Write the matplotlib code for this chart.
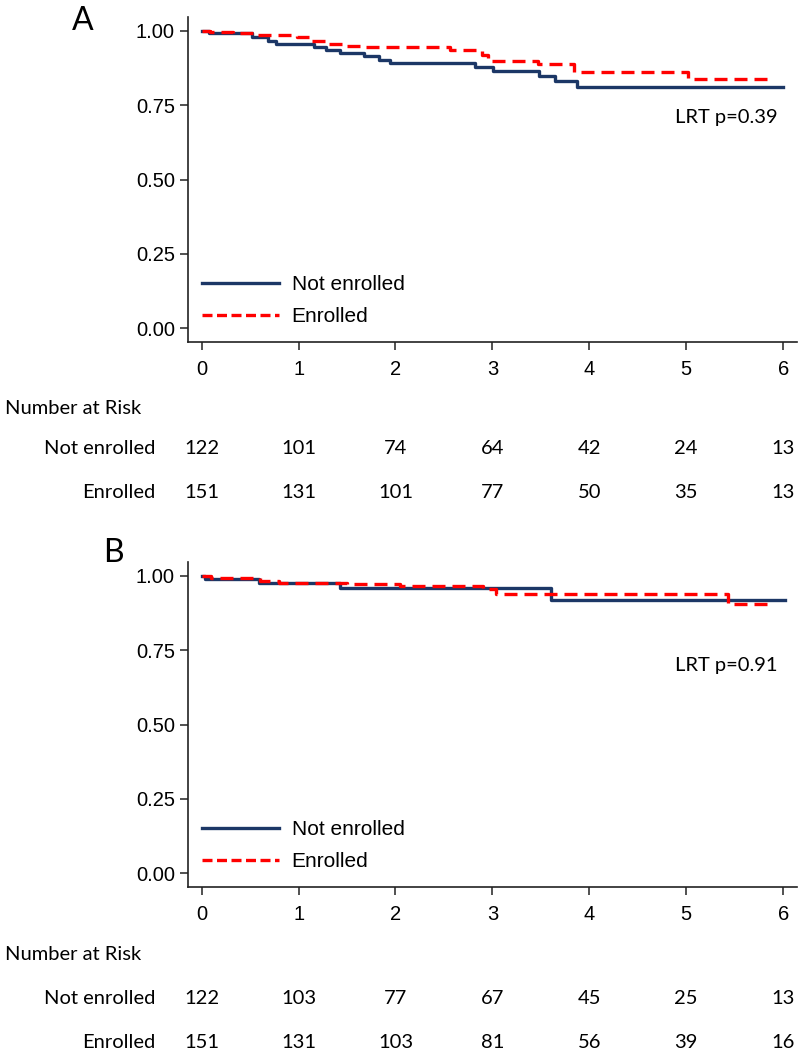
import numpy as np
import matplotlib.pyplot as plt
from matplotlib.lines import Line2D
from matplotlib.transforms import blended_transform_factory

# Kaplan-Meier step data (time in years, survival)
a_not_t = [0, 0.08, 0.52, 0.68, 0.77, 1.16, 1.28, 1.43, 1.68, 1.83, 1.94, 2.82, 3.01, 3.48, 3.65, 3.87, 6.0]
a_not_s = [1.0, 0.992, 0.981, 0.967, 0.956, 0.947, 0.936, 0.925, 0.916, 0.903, 0.892, 0.879, 0.867, 0.849, 0.833, 0.813, 0.813]
a_enr_t = [0, 0.09, 0.32, 0.53, 0.98, 1.13, 1.29, 1.50, 1.63, 2.56, 2.89, 2.95, 3.47, 3.84, 5.02, 5.86]
a_enr_s = [1.0, 0.998, 0.992, 0.987, 0.981, 0.967, 0.956, 0.951, 0.945, 0.936, 0.919, 0.900, 0.889, 0.862, 0.837, 0.837]

b_not_t = [0, 0.03, 0.59, 1.43, 3.60, 6.02]
b_not_s = [1.0, 0.989, 0.978, 0.959, 0.919, 0.919]
b_enr_t = [0, 0.10, 0.60, 0.80, 1.50, 2.05, 2.90, 3.04, 5.43, 5.86]
b_enr_s = [1.0, 0.993, 0.983, 0.976, 0.972, 0.966, 0.956, 0.940, 0.906, 0.906]

risk_times = [0, 1, 2, 3, 4, 5, 6]
a_risk_not = [122, 101, 74, 64, 42, 24, 13]
a_risk_enr = [151, 131, 101, 77, 50, 35, 13]
b_risk_not = [122, 103, 77, 67, 45, 25, 13]
b_risk_enr = [151, 131, 103, 81, 56, 39, 16]

NAVY = '#1c3766'
RED = '#ff0000'
AX_FONT = 'Liberation Sans'
TXT_FONT = 'Lato'
TXT_SIZE = 14.5

W, H = 804, 1050
fig = plt.figure(figsize=(W / 100, H / 100), dpi=100)


def fy(px):
    return 1 - px / H


def panel(bottom_px, not_t, not_s, enr_t, enr_s, p_text, p_base_y, letter, letter_xy,
          risk_not, risk_enr, risk_rows):
    ax = fig.add_axes([188 / W, 1 - bottom_px / H, 609 / W, 325 / H])
    ax.step(not_t, not_s, where='post', color=NAVY, lw=2.4)
    ax.step(enr_t, enr_s, where='post', color=RED, lw=2.4, dashes=(3.9, 2.1))
    ax.set_xlim(-0.141, 6.143)
    ax.set_ylim(-0.046, 1.047)
    for s in ['top', 'right']:
        ax.spines[s].set_visible(False)
    for s in ['left', 'bottom']:
        ax.spines[s].set_color('#222222')
        ax.spines[s].set_linewidth(1.2)
    ax.set_yticks([0, 0.25, 0.5, 0.75, 1.0])
    ax.set_yticklabels(['0.00', '0.25', '0.50', '0.75', '1.00'])
    ax.set_xticks(risk_times)
    ax.tick_params(axis='y', length=5.8, width=1.1, pad=3.6, labelsize=14.5, colors='#222222')
    ax.tick_params(axis='x', length=6, width=1.1, pad=7, labelsize=14.5, colors='#222222')
    for lab in ax.get_xticklabels() + ax.get_yticklabels():
        lab.set_family(AX_FONT)
        lab.set_color('black')

    handles = [Line2D([], [], color=NAVY, lw=2.4),
               Line2D([], [], color=RED, lw=2.4, dashes=(3.0, 1.35))]
    ax.legend(handles, ['Not enrolled', 'Enrolled'], loc='upper left',
              bbox_to_anchor=(0.023, 0.205), frameon=False, borderpad=0, borderaxespad=0,
              handlelength=3.7, handletextpad=0.6, labelspacing=0.62,
              prop={'family': AX_FONT, 'size': 15})

    fig.text(675 / W, fy(p_base_y), p_text, ha='left', va='baseline',
             family=TXT_FONT, fontsize=TXT_SIZE)
    fig.text(letter_xy[0] / W, fy(letter_xy[1]), letter, ha='left', va='baseline',
             family=TXT_FONT, fontsize=23)

    # number at risk table
    title_y, row1_y, row2_y = risk_rows
    fig.text(5 / W, fy(title_y), 'Number at Risk', ha='left', va='center',
             family=TXT_FONT, fontsize=TXT_SIZE)
    fig.text(155 / W, fy(row1_y), 'Not enrolled', ha='right', va='center',
             family=TXT_FONT, fontsize=TXT_SIZE)
    fig.text(155 / W, fy(row2_y), 'Enrolled', ha='right', va='center',
             family=TXT_FONT, fontsize=TXT_SIZE)
    tr = blended_transform_factory(ax.transData, fig.transFigure)
    for t, n1, n2 in zip(risk_times, risk_not, risk_enr):
        ax.text(t, fy(row1_y), str(n1), transform=tr, ha='center', va='center',
                family=TXT_FONT, fontsize=TXT_SIZE, clip_on=False)
        ax.text(t, fy(row2_y), str(n2), transform=tr, ha='center', va='center',
                family=TXT_FONT, fontsize=TXT_SIZE, clip_on=False)
    return ax


axA = panel(342, a_not_t, a_not_s, a_enr_t, a_enr_s, 'LRT p=0.39', 123, 'A', (72, 30),
            a_risk_not, a_risk_enr, (408, 449, 493))
axB = panel(887, b_not_t, b_not_s, b_enr_t, b_enr_s, 'LRT p=0.91', 671, 'B', (103, 562),
            b_risk_not, b_risk_enr, (954, 998, 1042))

fig.savefig('out.png', dpi=100)
